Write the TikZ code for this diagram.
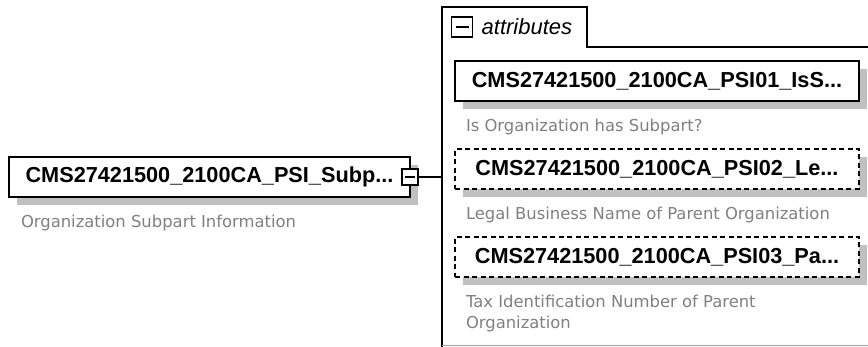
\documentclass[tikz,border=0pt]{standalone}
\usepackage{fontspec}
\setmainfont{Liberation Sans}
\newfontfamily\descfamily{DejaVu Sans}
\usetikzlibrary{positioning,shadows}

\begin{document}
\begin{tikzpicture}[x=1pt,y=-1pt]
  \definecolor{shadowgray}{HTML}{C0C0C0}
  \definecolor{descgray}{HTML}{808080}
  \definecolor{edgegray}{HTML}{A0A0A0}
  \newcommand{\descsep}[0]{16pt}
  \newcommand{\descindent}[0]{11pt}
  \newcommand{\elemname}[1]{\fontsize{21.7}{26}\selectfont\bfseries #1}
  \newcommand{\elemdesc}[1]{\fontsize{16.4}{21}\selectfont\descfamily\begin{tabular}{@{}l@{}}#1\end{tabular}}
  \tikzstyle{element}   = [rectangle, draw=black, line width=1.6pt, fill=white, minimum width=404pt, minimum height=40pt, inner sep=0pt, outer sep=0pt, drop shadow={shadow xshift=8pt, shadow yshift=-8pt, fill=shadowgray, opacity=1}]
  \tikzstyle{optional}  = [element, dash pattern=on 5pt off 3.5pt]
  \tikzstyle{expander}  = [rectangle, draw=black, line width=1.3pt, fill=white, minimum size=16pt, inner sep=0pt, outer sep=0pt]
  \tikzstyle{desc}      = [inner sep=0pt, outer sep=0pt, text=descgray]
  \tikzstyle{connector} = [line width=1.3pt]

  \useasboundingbox (0,0) rectangle (868,347);

  % attribute group frame
  \draw [line width=1.6pt] (442,348) |- (587,7) |- (868,47);
  \draw [edgegray, line width=1pt] (442,346) -- (868,346);
  \node [expander, minimum width=21pt, minimum height=20pt] (tabexp) at (462,27) {\rule{13pt}{1.2pt}};
  \node [right = 9pt of tabexp, inner sep=0pt, font=\fontsize{22}{26}\selectfont\itshape] (tablabel) {attributes};

  \node [element, minimum width=401pt] (subpart) at (209.5,177) {\elemname{CMS27421500\_2100CA\_PSI\_Subp...}};
  \node [expander] (subpartexp) at (subpart.east) {\rule{10pt}{1.2pt}};
  \coordinate (groupin) at (442,177);

  \node [element]                     (issub)  at (657,81) {\elemname{CMS27421500\_2100CA\_PSI01\_IsS...}};
  \node [optional, below = 48pt of issub] (legal) {\elemname{CMS27421500\_2100CA\_PSI02\_Le...}};
  \node [optional, below = 48pt of legal] (taxid) {\elemname{CMS27421500\_2100CA\_PSI03\_Pa...}};

  \draw [connector] (subpartexp.east) -- (groupin);

  \node [desc, below right = \descsep and 12pt of subpart.south west]    (subpartdesc) {\elemdesc{Organization Subpart Information}};
  \node [desc, below right = \descsep and \descindent of issub.south west] (issubdesc)   {\elemdesc{Is Organization has Subpart?}};
  \node [desc, below right = \descsep and \descindent of legal.south west] (legaldesc)   {\elemdesc{Legal Business Name of Parent Organization}};
  \node [desc, below right = \descsep and \descindent of taxid.south west] (taxiddesc)   {\elemdesc{Tax Identification Number of Parent\\Organization}};
\end{tikzpicture}
\end{document}
